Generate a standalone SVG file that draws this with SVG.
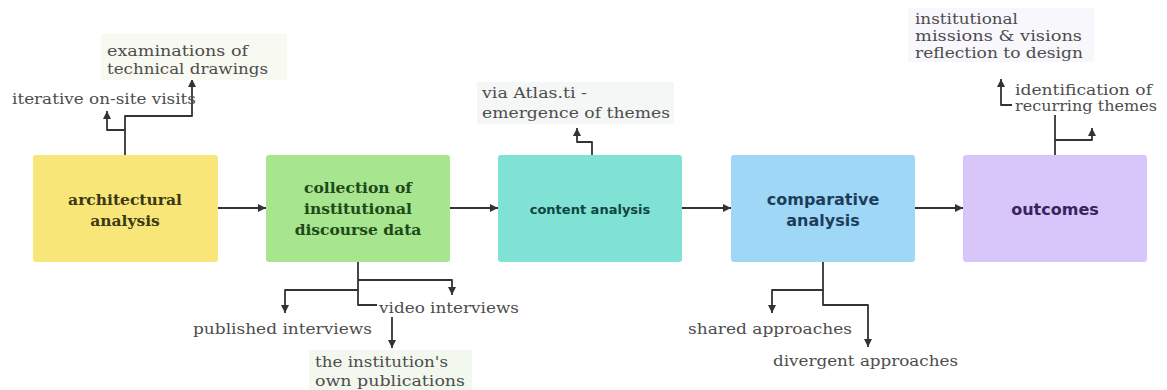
<svg xmlns="http://www.w3.org/2000/svg" width="1167" height="390" viewBox="0 0 1167 390">
  <defs>
    <marker id="ah" markerUnits="userSpaceOnUse" markerWidth="9" markerHeight="9" refX="8" refY="4.5" orient="auto">
      <path d="M0,0.5 L8,4.5 L0,8.5 z" fill="#333"/>
    </marker>
    <style>
      .box { stroke: none; }
      .conn { fill: none; stroke: #333; stroke-width: 1.8; stroke-linejoin: round; marker-end: url(#ah); }
      .lbl { font-family: "DejaVu Serif", "Liberation Serif", serif; font-size: 14.5px; fill: #4d4d4d; }
      .slab { font-family: "DejaVu Serif", "Liberation Serif", serif; font-weight: bold; text-anchor: middle; }
      .sans { font-family: "DejaVu Sans", "Liberation Sans", sans-serif; font-weight: bold; text-anchor: middle; }
      .lbg { stroke: none; }
    </style>
  </defs>
  <rect width="1167" height="390" fill="#ffffff"/>

  <g id="connectors">
    <path class="conn" d="M218,208 H266"/>
    <path class="conn" d="M450,208 H498"/>
    <path class="conn" d="M682,208 H731"/>
    <path class="conn" d="M915,208 H963"/>
    <path class="conn" d="M125,155 V130 H107 V111"/>
    <path class="conn" d="M125,130 V116 H192 V79"/>
    <path class="conn" d="M358,262 V280 H452 V295"/>
    <path class="conn" d="M358,290 H285 V313"/>
    <path class="conn" d="M358,280 V305 H392 V348"/>
    <path class="conn" d="M592,155 V142 H577 V128"/>
    <path class="conn" d="M823,262 V290 H772 V313"/>
    <path class="conn" d="M823,290 V305 H868 V347"/>
    <path class="conn" d="M1055,155 V105 H1001 V79"/>
    <path class="conn" d="M1055,140 H1092 V128"/>
  </g>

  <g id="node-architectural">
    <rect class="box" x="33" y="155" width="185" height="107" rx="3" fill="#f8e679"/>
    <text class="slab" font-size="15.5" fill="#3b3914"><tspan x="125" y="205">architectural</tspan><tspan x="125" y="226">analysis</tspan></text>
  </g>

  <g id="node-collection">
    <rect class="box" x="266" y="155" width="184" height="107" rx="3" fill="#a7e58f"/>
    <text class="slab" font-size="15.5" fill="#1e4a19"><tspan x="358" y="193">collection of</tspan><tspan x="358" y="214">institutional</tspan><tspan x="358" y="235">discourse data</tspan></text>
  </g>

  <g id="node-content">
    <rect class="box" x="498" y="155" width="184" height="107" rx="3" fill="#80e2d5"/>
    <text class="sans" x="590" y="214" font-size="13" fill="#11453f">content analysis</text>
  </g>

  <g id="node-comparative">
    <rect class="box" x="731" y="155" width="184" height="107" rx="3" fill="#9fd8f6"/>
    <text class="sans" font-size="16" fill="#1d3d5c"><tspan x="823" y="205">comparative</tspan><tspan x="823" y="226">analysis</tspan></text>
  </g>

  <g id="node-outcomes">
    <rect class="box" x="963" y="155" width="184" height="107" rx="3" fill="#d8c6fa"/>
    <text class="sans" x="1055" y="215" font-size="16" fill="#36245c">outcomes</text>
  </g>

  <g id="label-examinations">
    <rect class="lbg" x="101" y="34" width="186" height="46" fill="#f8faf1"/>
    <text class="lbl" x="107" y="56" textLength="141" lengthAdjust="spacingAndGlyphs">examinations of</text>
    <text class="lbl" x="107" y="74" textLength="161" lengthAdjust="spacingAndGlyphs">technical drawings</text>
  </g>
  <g id="label-iterative">
    <text class="lbl" x="12" y="104" textLength="184" lengthAdjust="spacingAndGlyphs">iterative on-site visits</text>
  </g>
  <g id="label-atlas">
    <rect class="lbg" x="477" y="82" width="197" height="42" fill="#f4f7f6"/>
    <text class="lbl" x="482" y="98" textLength="105" lengthAdjust="spacingAndGlyphs">via Atlas.ti -</text>
    <text class="lbl" x="482" y="118" textLength="188" lengthAdjust="spacingAndGlyphs">emergence of themes</text>
  </g>
  <g id="label-published">
    <text class="lbl" x="193" y="334" textLength="179" lengthAdjust="spacingAndGlyphs">published interviews</text>
  </g>
  <g id="label-video">
    <rect class="lbg" x="377" y="299" width="146" height="18" fill="#ffffff"/>
    <text class="lbl" x="379" y="313" textLength="140" lengthAdjust="spacingAndGlyphs">video interviews</text>
  </g>
  <g id="label-publications">
    <rect class="lbg" x="309" y="350" width="163" height="40" fill="#f2f8ee"/>
    <text class="lbl" x="315" y="367" textLength="133" lengthAdjust="spacingAndGlyphs">the institution's</text>
    <text class="lbl" x="315" y="386" textLength="150" lengthAdjust="spacingAndGlyphs">own publications</text>
  </g>
  <g id="label-shared">
    <text class="lbl" x="688" y="334" textLength="164" lengthAdjust="spacingAndGlyphs">shared approaches</text>
  </g>
  <g id="label-divergent">
    <text class="lbl" x="773" y="366" textLength="185" lengthAdjust="spacingAndGlyphs">divergent approaches</text>
  </g>
  <g id="label-missions">
    <rect class="lbg" x="908" y="8" width="186" height="54" fill="#f8f7fc"/>
    <text class="lbl" x="915" y="24" textLength="103" lengthAdjust="spacingAndGlyphs">institutional</text>
    <text class="lbl" x="915" y="41" textLength="167" lengthAdjust="spacingAndGlyphs">missions &amp; visions</text>
    <text class="lbl" x="915" y="58" textLength="168" lengthAdjust="spacingAndGlyphs">reflection to design</text>
  </g>
  <g id="label-recurring">
    <rect class="lbg" x="1012" y="81" width="150" height="34" fill="#ffffff"/>
    <text class="lbl" x="1015" y="95" textLength="137" lengthAdjust="spacingAndGlyphs">identification of</text>
    <text class="lbl" x="1015" y="111" textLength="142" lengthAdjust="spacingAndGlyphs">recurring themes</text>
  </g>
</svg>
